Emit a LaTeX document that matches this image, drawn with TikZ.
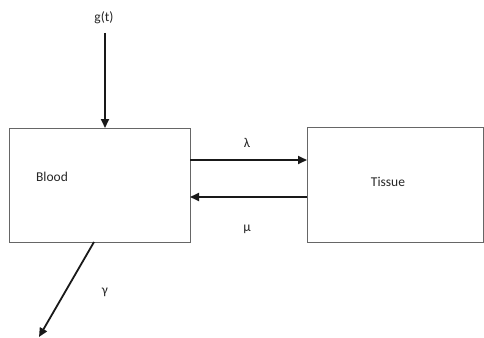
\documentclass[tikz,border=0pt]{standalone}
\usepackage{fontspec}
\setmainfont{Carlito}
\usetikzlibrary{arrows.meta}
\begin{document}
\begin{tikzpicture}[x=1pt,y=-1pt,
  box/.style={draw=black!60,line width=0.9pt},
  flow/.style={draw=black!90,line width=1.8pt,-{Triangle[length=9pt,width=8pt]}},
  lbl/.style={font=\fontsize{13.5}{15}\selectfont,text=black!85,inner sep=0pt}]
\useasboundingbox (0,0) rectangle (484,337);
\draw[box] (9,128) rectangle (190,242);
\draw[box] (307,127) rectangle (483,242);
\node[lbl] (blood) at (52,177) {Blood};
\node[lbl] (tissue) at (388,182) {Tissue};
\node[lbl] (g) at (104,18) {g(t)};
\coordinate (gs) at (105,33);
\coordinate (ge) at (105,128);
\draw[flow] (gs) -- (ge);
\coordinate (l1) at (190,160);
\coordinate (l2) at (307,160);
\draw[flow] (l1) -- (l2);
\node[lbl] (lam) at (247,143) {λ};
\coordinate (m1) at (307,197);
\coordinate (m2) at (190,197);
\draw[flow] (m1) -- (m2);
\node[lbl] (mu) at (247,229) {μ};
\coordinate (y1) at (94,242);
\coordinate (y2) at (39,337);
\draw[flow] (y1) -- (y2);
\node[lbl] (gam) at (105,292) {γ};
\end{tikzpicture}
\end{document}
